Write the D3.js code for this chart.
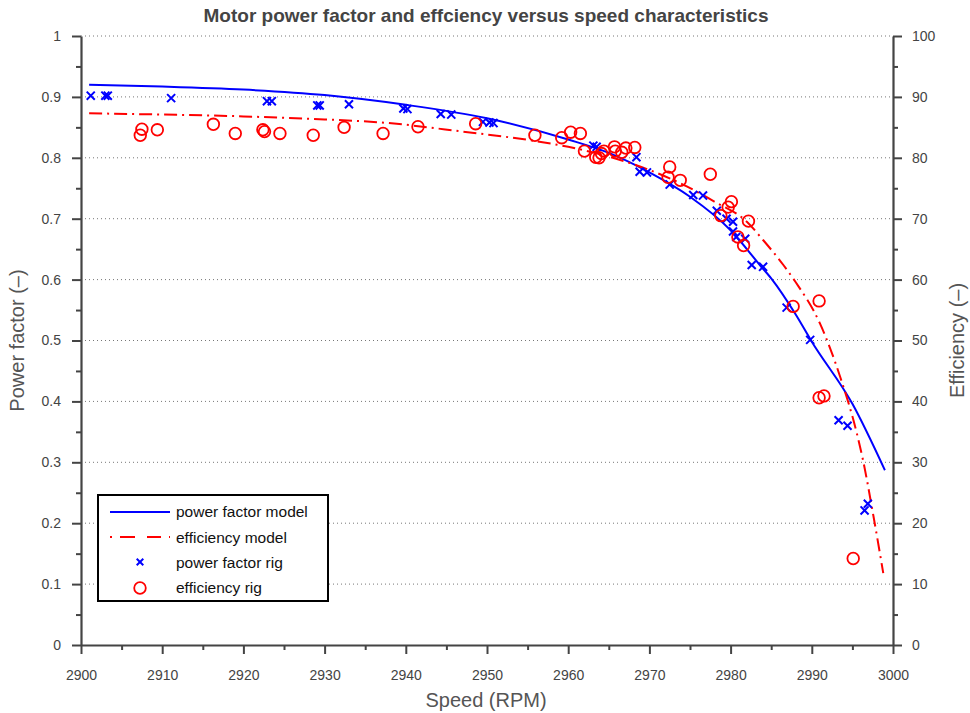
<!DOCTYPE html>
<html lang="en">
<head>
    <meta charset="UTF-8">
    <title>Motor power factor and efficiency</title>
    <script src="https://d3js.org/d3.v7.min.js"></script>
    <style>
        html, body {
            margin: 0;
            background: #fff;
        }
        text {
            font-family: "Liberation Sans", Arial, sans-serif;
        }
    </style>
</head>
<body>
<div class="chart"></div>

<script>

    // model curves
    var pfModelSpeed = [2901, 2910, 2920, 2930, 2940, 2950, 2960, 2965, 2970, 2975, 2980, 2983.6, 2985, 2988, 2990, 2995, 2999];
    var pfModel = [0.920, 0.917, 0.912, 0.903, 0.887, 0.865, 0.830, 0.808, 0.776, 0.736, 0.681, 0.624, 0.602, 0.543, 0.498, 0.396, 0.287];

    var effModelSpeed = [2901, 2910, 2920, 2930, 2937, 2947, 2955.7, 2960, 2965.5, 2970, 2974.6, 2978, 2982, 2984, 2986.5, 2988, 2991, 2993.5, 2995.5, 2996.3, 2997.6, 2998.8];
    var effModel = [87.3, 87.1, 86.8, 86.3, 85.8, 84.3, 82.8, 81.8, 80.0, 78.0, 75.3, 72.8, 69.5, 66.5, 62.4, 59.6, 52.8, 44.0, 35.0, 30.4, 21.1, 11.8];

    // rig measurements
    var pfRigSpeed = [2901.2, 2903.0, 2903.3, 2911.1, 2922.9, 2923.5, 2929.1, 2929.4, 2933.0, 2939.7, 2940.2, 2944.3, 2945.6,
        2949.5, 2950.3, 2950.8, 2963.1, 2963.5, 2968.4, 2968.8, 2969.7, 2972.5, 2975.4, 2976.6, 2978.3, 2979.5, 2980.3,
        2980.3, 2980.7, 2981.8, 2982.6, 2984.0, 2986.9, 2989.8, 2993.3, 2994.4, 2996.5, 2996.9];
    var pfRig = [0.902, 0.902, 0.902, 0.898, 0.893, 0.893, 0.886, 0.886, 0.888, 0.881, 0.880, 0.872, 0.871,
        0.859, 0.858, 0.857, 0.820, 0.818, 0.801, 0.777, 0.776, 0.756, 0.739, 0.738, 0.713, 0.700, 0.695,
        0.679, 0.670, 0.667, 0.624, 0.621, 0.554, 0.501, 0.369, 0.360, 0.221, 0.232];

    var effRigSpeed = [2907.3, 2907.5, 2909.4, 2916.3, 2919.0, 2922.4, 2922.6, 2924.5, 2928.6, 2932.4, 2937.2, 2941.5, 2948.6,
        2955.9, 2959.2, 2960.3, 2961.5, 2962.0, 2963.4, 2963.8, 2964.1, 2964.4, 2965.7, 2965.8, 2966.6, 2967.1, 2968.2,
        2972.5, 2972.3, 2973.8, 2977.5, 2980.1, 2979.7, 2978.8, 2982.2, 2980.9, 2981.6, 2987.7, 2990.9, 2990.9, 2991.5, 2995.1];
    var effRig = [83.7, 84.7, 84.6, 85.5, 84.0, 84.6, 84.3, 84.0, 83.7, 85.0, 84.0, 85.1, 85.6,
        83.7, 83.3, 84.2, 84.0, 81.1, 80.1, 80.0, 80.7, 81.1, 81.8, 81.1, 80.9, 81.6, 81.7,
        78.5, 76.8, 76.3, 77.3, 72.8, 71.9, 70.5, 69.6, 67.0, 65.6, 55.6, 56.5, 40.6, 40.9, 14.2];

    var xTicks = d3.range(2900, 3001, 10);
    var pfTicks = d3.range(0, 1.0001, 0.1);
    var effTicks = d3.range(0, 101, 10);

    var width = 970, height = 713;
    var margin = {left: 81, right: 77, top: 36, bottom: 68};
    var innerW = width - margin.left - margin.right;
    var innerH = height - margin.top - margin.bottom;

    var x = d3.scaleLinear().domain([2900, 3000]).range([0, innerW]);
    var y = d3.scaleLinear().domain([0, 1]).range([innerH, 0]);
    var y2 = d3.scaleLinear().domain([0, 100]).range([innerH, 0]);

    var axisColor = "#444";
    var blue = "#0000ff", red = "#ff0000";

    var svg = d3.select(".chart").append("svg")
        .attr("width", width).attr("height", height)
        .style("background", "#fff");

    var g = svg.append("g").attr("transform", "translate(" + margin.left + "," + margin.top + ")");

    // dotted horizontal grid
    g.append("g").selectAll("line")
        .data(pfTicks.slice(1))
        .enter().append("line")
        .attr("x1", 0).attr("x2", innerW)
        .attr("y1", function (d) { return y(d); })
        .attr("y2", function (d) { return y(d); })
        .attr("stroke", "#777")
        .attr("stroke-width", 1)
        .attr("stroke-dasharray", "1,3");

    // axes: major ticks
    function styleAxis(sel) {
        sel.select(".domain").attr("stroke", axisColor).attr("stroke-width", 2.2);
        sel.selectAll(".tick line").attr("stroke", axisColor).attr("stroke-width", 2);
        sel.selectAll(".tick text").attr("fill", "#444").style("font-size", "14px");
    }

    function minorTicks(axisFn, scale, vals, cls, transform) {
        g.append("g").attr("class", cls).attr("transform", transform || null)
            .call(axisFn(scale).tickValues(vals).tickSize(5).tickFormat(""))
            .call(function (s) {
                s.select(".domain").remove();
                s.selectAll(".tick line").attr("stroke", axisColor).attr("stroke-width", 2);
            });
    }

    minorTicks(d3.axisBottom, x, d3.range(2905, 3000, 10), "minor x", "translate(0," + innerH + ")");
    minorTicks(d3.axisLeft, y, d3.range(0.05, 1, 0.1), "minor y");
    minorTicks(d3.axisRight, y2, d3.range(5, 100, 10), "minor y2", "translate(" + innerW + ",0)");

    g.append("g").attr("class", "axis x")
        .attr("transform", "translate(0," + innerH + ")")
        .call(d3.axisBottom(x).tickValues(xTicks).tickSize(9).tickSizeOuter(0).tickPadding(16).tickFormat(d3.format("d")))
        .call(styleAxis);

    g.append("g").attr("class", "axis y")
        .call(d3.axisLeft(y).tickValues(pfTicks).tickSize(9).tickSizeOuter(0).tickPadding(11)
            .tickFormat(function (d) { return d === 0 || d === 1 ? d3.format("d")(d) : d3.format(".1f")(d); }))
        .call(styleAxis);

    g.append("g").attr("class", "axis y2")
        .attr("transform", "translate(" + innerW + ",0)")
        .call(d3.axisRight(y2).tickValues(effTicks).tickSize(9).tickSizeOuter(0).tickPadding(10))
        .call(styleAxis);

    // model curves
    var pfLine = d3.line()
        .x(function (d, i) { return x(pfModelSpeed[i]); })
        .y(function (d) { return y(d); })
        .curve(d3.curveMonotoneX);
    var effLine = d3.line()
        .x(function (d, i) { return x(effModelSpeed[i]); })
        .y(function (d) { return y2(d); })
        .curve(d3.curveMonotoneX);

    g.append("path").attr("d", pfLine(pfModel))
        .attr("fill", "none").attr("stroke", blue).attr("stroke-width", 2);
    g.append("path").attr("d", effLine(effModel))
        .attr("fill", "none").attr("stroke", red).attr("stroke-width", 2)
        .attr("stroke-dasharray", "13,5,2,5");

    // rig markers
    var cross = d3.symbol().type(d3.symbolX).size(44);
    g.append("g").selectAll("path")
        .data(pfRig)
        .enter().append("path")
        .attr("d", cross)
        .attr("transform", function (d, i) { return "translate(" + x(pfRigSpeed[i]) + "," + y(d) + ")"; })
        .attr("fill", "none").attr("stroke", blue).attr("stroke-width", 2);

    g.append("g").selectAll("circle")
        .data(effRig)
        .enter().append("circle")
        .attr("cx", function (d, i) { return x(effRigSpeed[i]); })
        .attr("cy", function (d) { return y2(d); })
        .attr("r", 5.8)
        .attr("fill", "none").attr("stroke", red).attr("stroke-width", 1.8);

    // titles
    svg.append("text")
        .attr("x", 486).attr("y", 22)
        .attr("text-anchor", "middle")
        .attr("fill", "#444")
        .style("font-size", "19px").style("font-weight", "bold")
        .text("Motor power factor and effciency versus speed characteristics");

    svg.append("text")
        .attr("x", 486).attr("y", 707)
        .attr("text-anchor", "middle")
        .attr("fill", "#555")
        .style("font-size", "20px")
        .text("Speed (RPM)");

    svg.append("text")
        .attr("transform", "translate(24," + (margin.top + innerH / 2) + ") rotate(-90)")
        .attr("text-anchor", "middle")
        .attr("fill", "#555")
        .style("font-size", "20px")
        .text("Power factor (\u2013)");

    svg.append("text")
        .attr("transform", "translate(964," + (margin.top + innerH / 2) + ") rotate(-90)")
        .attr("text-anchor", "middle")
        .attr("fill", "#555")
        .style("font-size", "20px")
        .text("Efficiency (\u2013)");

    // legend
    var legend = svg.append("g").attr("transform", "translate(98,495)");
    legend.append("rect")
        .attr("width", 230).attr("height", 106)
        .attr("fill", "#fff").attr("stroke", "#000").attr("stroke-width", 2);

    var rows = ["power factor model", "efficiency model", "power factor rig", "efficiency rig"];
    legend.selectAll("text.lab")
        .data(rows)
        .enter().append("text")
        .attr("class", "lab")
        .attr("x", 78).attr("y", function (d, i) { return 17 + i * 25.3; })
        .attr("dy", "0.35em")
        .attr("fill", "#111")
        .style("font-size", "15.5px")
        .text(function (d) { return d; });

    legend.append("line").attr("x1", 12).attr("x2", 72).attr("y1", 17).attr("y2", 17)
        .attr("stroke", blue).attr("stroke-width", 2);
    legend.append("line").attr("x1", 12).attr("x2", 72).attr("y1", 42).attr("y2", 42)
        .attr("stroke", red).attr("stroke-width", 2).attr("stroke-dasharray", "2,8,15,12,14,8,2");
    legend.append("path").attr("d", d3.symbol().type(d3.symbolX).size(30))
        .attr("transform", "translate(42,67)")
        .attr("fill", "none").attr("stroke", blue).attr("stroke-width", 2);
    legend.append("circle").attr("cx", 42).attr("cy", 93).attr("r", 5.8)
        .attr("fill", "none").attr("stroke", red).attr("stroke-width", 1.8);

</script>
</body>
</html>
